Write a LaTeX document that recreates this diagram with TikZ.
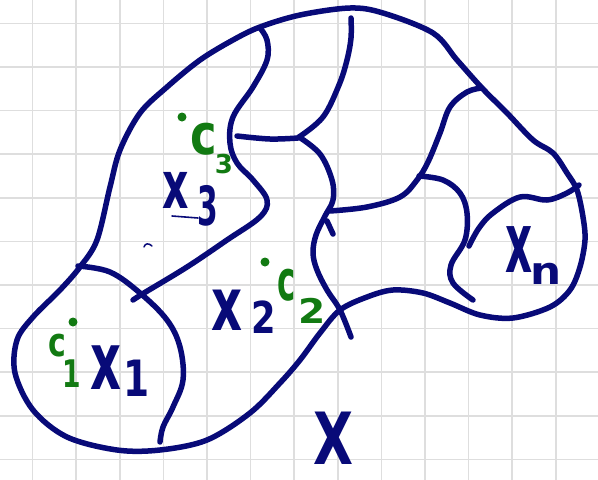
\documentclass[tikz,border=0pt]{standalone}
\usepackage{fontspec}
\usepackage{graphicx}
\setmainfont{DejaVu Sans}
\definecolor{navyink}{RGB}{8,10,120}
\definecolor{greenink}{RGB}{18,122,18}
\definecolor{gridgray}{RGB}{222,222,222}
\newcommand{\hw}[3]{\fontsize{#1}{#1}\selectfont\bfseries\scalebox{#2}[1]{#3}}
\tikzset{
  ink/.style={draw=navyink, line width=5.5pt, line cap=round, line join=round},
  gridline/.style={draw=gridgray, line width=1.6pt},
  lbl/.style={inner sep=0pt, text=navyink},
  glbl/.style={inner sep=0pt, text=greenink},
  cdot/.style={circle, fill=greenink, inner sep=0pt, minimum size=9pt}
}
\begin{document}
\begin{tikzpicture}[x=1pt,y=-1pt]
\useasboundingbox (0,0) rectangle (598,480);
\fill[white] (0,0) rectangle (598,480);
% grid
\foreach \k in {0,...,13} \draw[gridline] (32.5+43.6*\k,0) -- (32.5+43.6*\k,480);
\foreach \k in {0,...,10} \draw[gridline] (0,23.3+43.6*\k) -- (598,23.3+43.6*\k);
% outer boundary
\draw[ink] plot[smooth cycle, tension=0.55] coordinates {
 (260,27) (300,15) (350,8) (383,13) (433,33) (457,60) (482,88) (507,113)
 (533,140) (553,153) (567,173) (577,190) (583,217) (585,240) (580,267)
 (570,290) (550,307) (513,318) (480,315) (450,303) (423,293) (393,290)
 (367,297) (340,310) (320,333) (300,360) (280,383) (250,413) (207,440)
 (160,450) (117,450) (67,437) (33,410) (15,373) (17,340) (33,317)
 (60,290) (80,267) (97,240) (110,187) (120,150) (140,113) (167,87)
 (200,60) (233,40)};
% X1 boundary
\draw[ink] plot[smooth, tension=0.6] coordinates {
 (78,266) (110,272) (140,293) (167,320) (180,347) (183,380) (173,407) (163,427) (160,442)};
% X3 / X2 boundary
\draw[ink] plot[smooth, tension=0.6] coordinates {
 (133,300) (144,293) (187,267) (227,240) (260,217) (267,200) (253,180)
 (237,163) (230,143) (233,117) (253,87) (267,60) (267,40) (260,28)};
% short horizontal
\draw[ink] plot[smooth, tension=0.6] coordinates {(237,136) (270,139) (298,138)};
% long vertical line, top part
\draw[ink] plot[smooth, tension=0.6] coordinates {
 (351,18) (351,38) (347,60) (339,85) (323,117) (299,137)};
% long vertical line, lower part
\draw[ink] plot[smooth, tension=0.6] coordinates {
 (299,137) (320,154) (332,180) (333,200) (325,216) (316,235) (313,253)
 (317,270) (327,290) (340,310) (351,337)};
\draw[ink] (327,221) -- (333,234);
% line to upper right
\draw[ink] plot[smooth, tension=0.6] coordinates {
 (330,211) (367,207) (400,197) (417,180) (428,162) (440,133) (450,107) (467,92) (482,88)};
% branch down to bottom right
\draw[ink] plot[smooth, tension=0.6] coordinates {
 (419,176) (443,180) (460,193) (467,213) (465,240) (451,265) (453,283) (473,300)};
% Xn boundary
\draw[ink] plot[smooth, tension=0.6] coordinates {
 (469,246) (479,228) (493,213) (520,197) (547,200) (567,193) (579,185)};
% stray marks
\draw[ink, line width=1.5pt] (144,247) .. controls (145,243) and (149,243) .. (152,246);
\draw[ink, line width=1.6pt] (172,216) -- (198,218);
% centres
\node[cdot] (d3) at (182,117) {};
\node[cdot] (d2) at (265,262) {};
\node[cdot] (d1) at (73,322) {};
% labels
\node[lbl] (x3) at (176,190) {\hw{66}{0.62}{x}};
\node[lbl] (x3s) at (208,206) {\hw{54}{0.55}{3}};
\node[glbl] (c3) at (204,139) {\hw{56}{0.8}{c}};
\node[glbl] (c3s) at (224,164) {\hw{26}{1}{3}};
\node[lbl] (x2) at (227,310) {\hw{74}{0.65}{x}};
\node[lbl] (x2s) at (264,317) {\hw{44}{0.8}{2}};
\node[glbl] (c2) at (287,285) {\hw{56}{0.55}{c}};
\node[glbl] (c2s) at (312,311) {\hw{34}{1.15}{2}};
\node[glbl] (c1) at (57,346) {\hw{40}{0.75}{c}};
\node[glbl] (c1s) at (72,374) {\hw{38}{0.7}{1}};
\node[lbl] (x1) at (106,368) {\hw{80}{0.6}{x}};
\node[lbl] (x1s) at (137,378) {\hw{50}{0.75}{1}};
\node[lbl] (xn) at (519,250) {\hw{84}{0.5}{x}};
\node[lbl] (xns) at (546,274) {\hw{38}{1.15}{n}};
\node[lbl] (X) at (333,438) {\hw{72}{0.72}{X}};
\end{tikzpicture}
\end{document}
